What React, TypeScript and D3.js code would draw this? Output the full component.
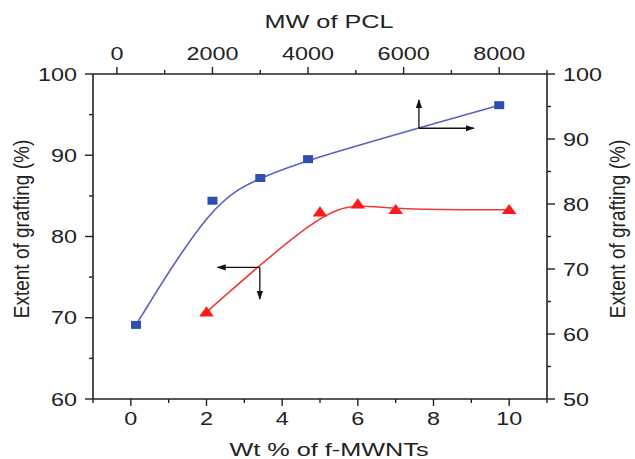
import React from "react";
import * as d3 from "d3";

// Red series: Wt % of f-MWNTs (bottom axis) vs extent of grafting (left axis)
const wtPct = [2, 5, 6, 7, 10];
const redValues = [70.7, 83.0, 84.0, 83.3, 83.3];
// Blue series: MW of PCL (top axis) vs extent of grafting (right axis)
const mwPcl = [400, 2000, 3000, 4000, 8000];
const blueValues = [61.4, 80.5, 84.0, 86.9, 95.2];

const bottomTicks = [0, 2, 4, 6, 8, 10];
const topTicks = [0, 2000, 4000, 6000, 8000];
const leftTicks = [60, 70, 80, 90, 100];
const rightTicks = [50, 60, 70, 80, 90, 100];

const W = 635, H = 459;
const L = 93, R = 547, T = 74, B = 399;

const xB = d3.scaleLinear().domain([-1, 11]).range([L, R]);
const xT = d3.scaleLinear().domain([-500, 9000]).range([L, R]);
const yL = d3.scaleLinear().domain([60, 100]).range([B, T]);
const yR = d3.scaleLinear().domain([50, 100]).range([B, T]);

const FONT = "'Liberation Sans', Arial, sans-serif";
const AX = "#222";

function Txt({ x, y, anchor = "middle", size = 18, sx = 1.3, rot = 0, children }: any) {
  return (
    <text
      transform={`translate(${x},${y}) scale(${sx},1)${rot ? ` rotate(${rot})` : ""}`}
      textAnchor={anchor}
      fontSize={size}
      fontFamily={FONT}
      fill="#222"
    >
      {children}
    </text>
  );
}

export default function App() {
  const redLine = d3
    .line<number>()
    .x((_, i) => xB(wtPct[i]))
    .y((d) => yL(d))
    .curve(d3.curveBasis)(redValues) as string;
  const blueLine = d3
    .line<number>()
    .x((_, i) => xT(mwPcl[i]))
    .y((d) => yR(d))
    .curve(d3.curveBasis)(blueValues) as string;

  const minorB = d3.range(-1, 12, 2);
  const minorT = d3.range(1000, 9001, 2000);
  const minorL = d3.range(65, 100, 10);
  const minorR = d3.range(55, 100, 10);

  const tri = d3.symbol().type(d3.symbolTriangle).size(60)() as string;

  // arrow annotations in data units
  const redCorner = { x: xB(3.41), y: yL(76.2) };
  const redLeftTip = xB(2.29);
  const redDownTip = yL(72.3);
  const blueCorner = { x: xT(6320), y: yR(91.65) };
  const blueUpTip = yR(96);
  const blueRightTip = xT(7470);

  return (
    <svg width={W} height={H} style={{ position: "absolute", left: 0, top: 0, background: "#fff" }}>
      <defs>
        <marker id="ah" viewBox="0 0 10 10" refX="9" refY="5" markerWidth="7" markerHeight="7" orient="auto-start-reverse">
          <path d="M0,1.5 L10,5 L0,8.5 Z" fill="#111" />
        </marker>
      </defs>
      <rect x={0} y={0} width={W} height={H} fill="#fff" />

      {/* frame */}
      <g stroke={AX} strokeWidth={1.6} fill="none">
        <line x1={L} x2={L} y1={T} y2={B} />
        <line x1={R} x2={R} y1={T} y2={B} />
        <line x1={L} x2={R} y1={T} y2={T} />
        <line x1={L} x2={R} y1={B} y2={B} />
      </g>

      {/* ticks */}
      <g stroke={AX} strokeWidth={1.4}>
        {bottomTicks.map((t) => (
          <line key={"bt" + t} x1={xB(t)} x2={xB(t)} y1={B} y2={B + 7} />
        ))}
        {minorB.map((t) => (
          <line key={"bm" + t} x1={xB(t)} x2={xB(t)} y1={B} y2={B + 4} />
        ))}
        {topTicks.map((t) => (
          <line key={"tt" + t} x1={xT(t)} x2={xT(t)} y1={T} y2={T - 7} />
        ))}
        {minorT.map((t) => (
          <line key={"tm" + t} x1={xT(t)} x2={xT(t)} y1={T} y2={T - 4} />
        ))}
        {leftTicks.map((t) => (
          <line key={"lt" + t} x1={L} x2={L - 8} y1={yL(t)} y2={yL(t)} />
        ))}
        {minorL.map((t) => (
          <line key={"lm" + t} x1={L} x2={L - 4} y1={yL(t)} y2={yL(t)} />
        ))}
        {rightTicks.map((t) => (
          <line key={"rt" + t} x1={R} x2={R + 8} y1={yR(t)} y2={yR(t)} />
        ))}
        {minorR.map((t) => (
          <line key={"rm" + t} x1={R} x2={R + 4} y1={yR(t)} y2={yR(t)} />
        ))}
      </g>

      {/* tick labels */}
      {bottomTicks.map((t) => (
        <Txt key={"bl" + t} x={xB(t)} y={425}>{t}</Txt>
      ))}
      {topTicks.map((t) => (
        <Txt key={"tl" + t} x={xT(t)} y={60}>{t}</Txt>
      ))}
      {leftTicks.map((t) => (
        <Txt key={"ll" + t} x={77} y={yL(t) + 6.5} anchor="end">{t}</Txt>
      ))}
      {rightTicks.map((t) => (
        <Txt key={"rl" + t} x={563} y={yR(t) + 6.5} anchor="start">{t}</Txt>
      ))}

      {/* axis titles */}
      <Txt x={329} y={28} size={19} sx={1.33}>MW of PCL</Txt>
      <Txt x={329} y={456} size={19} sx={1.33}>Wt % of f-MWNTs</Txt>
      <Txt x={29} y={229} size={19} sx={1.15} rot={-90}>Extent of grafting (%)</Txt>
      <Txt x={625} y={229} size={19} sx={1.15} rot={-90}>Extent of grafting (%)</Txt>

      {/* curves */}
      <path d={blueLine} fill="none" stroke="#5a5fc4" strokeWidth={1.6} />
      <path d={redLine} fill="none" stroke="#f03a3a" strokeWidth={1.6} />

      {/* markers */}
      {blueValues.map((v, i) => (
        <rect key={"bs" + i} x={xT(mwPcl[i]) - 5} y={yR(v) - 4} width={10} height={8} fill="#2f4fb0" />
      ))}
      {redValues.map((v, i) => (
        <path
          key={"rs" + i}
          d={tri}
          transform={`translate(${xB(wtPct[i])},${yL(v) + 1}) scale(1.25,1)`}
          fill="#ff1a1a"
        />
      ))}

      {/* arrows */}
      <g stroke="#111" strokeWidth={1.3} fill="none">
        <line x1={redCorner.x} y1={redCorner.y} x2={redLeftTip} y2={redCorner.y} markerEnd="url(#ah)" />
        <line x1={redCorner.x} y1={redCorner.y} x2={redCorner.x} y2={redDownTip} markerEnd="url(#ah)" />
        <line x1={blueCorner.x} y1={blueCorner.y} x2={blueCorner.x} y2={blueUpTip} markerEnd="url(#ah)" />
        <line x1={blueCorner.x} y1={blueCorner.y} x2={blueRightTip} y2={blueCorner.y} markerEnd="url(#ah)" />
      </g>
    </svg>
  );
}
